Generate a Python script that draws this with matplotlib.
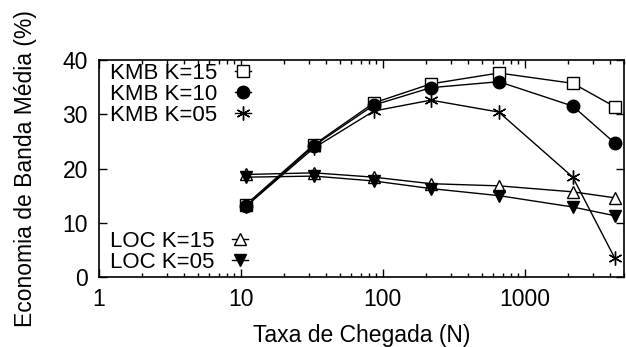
import matplotlib
matplotlib.use("Agg")
import matplotlib.pyplot as plt
from matplotlib.ticker import LogLocator, NullFormatter, FixedLocator

plt.rcParams["font.family"] = ["Liberation Sans", "DejaVu Sans"]

taxa = [10.8, 32.7, 86.5, 218, 656, 2180, 4300]

kmb_k15 = [13.3, 24.4, 32.1, 35.6, 37.6, 35.7, 31.4]
kmb_k10 = [13.0, 24.2, 31.7, 34.9, 36.0, 31.5, 24.7]
kmb_k05 = [13.0, 23.8, 30.6, 32.6, 30.4, 18.4, 3.5]
loc_k15 = [18.9, 19.2, 18.4, 17.2, 16.8, 15.7, 14.6]
loc_k05 = [18.4, 18.6, 17.7, 16.3, 15.0, 12.9, 11.3]

fs = 16.5

fig = plt.figure(figsize=(6.26, 3.47), dpi=100)
ax = fig.add_axes([99 / 626, 1 - 277 / 347, 525 / 626, 217 / 347])

kw = dict(color="black", lw=1.0, markeredgewidth=1.0)
h1, = ax.plot(taxa, kmb_k15, marker="s", ms=8.5, mfc="white", label="KMB K=15", **kw)
h2, = ax.plot(taxa, kmb_k10, marker="o", ms=9, mfc="black", label="KMB K=10", **kw)
h3, = ax.plot(taxa, kmb_k05, marker=(6, 2, 0), ms=10, label="KMB K=05", **kw)
h4, = ax.plot(taxa, loc_k15, marker="^", ms=8.5, mfc="white", label="LOC K=15", **kw)
h5, = ax.plot(taxa, loc_k05, marker="v", ms=8.5, mfc="black", label="LOC K=05", **kw)

ax.set_xscale("log")
ax.set_xlim(1, 5000)
ax.set_ylim(0, 40)
ax.yaxis.set_major_locator(FixedLocator([0, 10, 20, 30, 40]))
ax.xaxis.set_major_locator(FixedLocator([1, 10, 100, 1000]))
ax.xaxis.set_minor_locator(LogLocator(base=10, subs=range(2, 10)))
ax.xaxis.set_minor_formatter(NullFormatter())
ax.set_xticklabels(["1", "10", "100", "1000"])

ax.tick_params(which="both", direction="in", top=True, right=True, labelsize=fs)
ax.tick_params(which="major", length=6, width=1, pad=8)
ax.tick_params(which="minor", length=3, width=1)
for s in ax.spines.values():
    s.set_linewidth(1.2)

ax.set_xlabel("Taxa de Chegada (N)", fontsize=fs, labelpad=9)
ax.set_ylabel("Economia de Banda Média (%)", fontsize=fs, labelpad=18)

legkw = dict(markerfirst=False, frameon=False, fontsize=16, handlelength=0.75,
             handletextpad=0.8, labelspacing=0.0, borderaxespad=0.0, borderpad=0.0)
leg1 = ax.legend(handles=[h1, h2, h3], loc="upper left",
                 bbox_to_anchor=(0.02, 0.985), **legkw)
ax.add_artist(leg1)
ax.legend(handles=[h4, h5], loc="lower left",
          bbox_to_anchor=(0.02, 0.02), **legkw)

fig.savefig("out.png", dpi=100)
